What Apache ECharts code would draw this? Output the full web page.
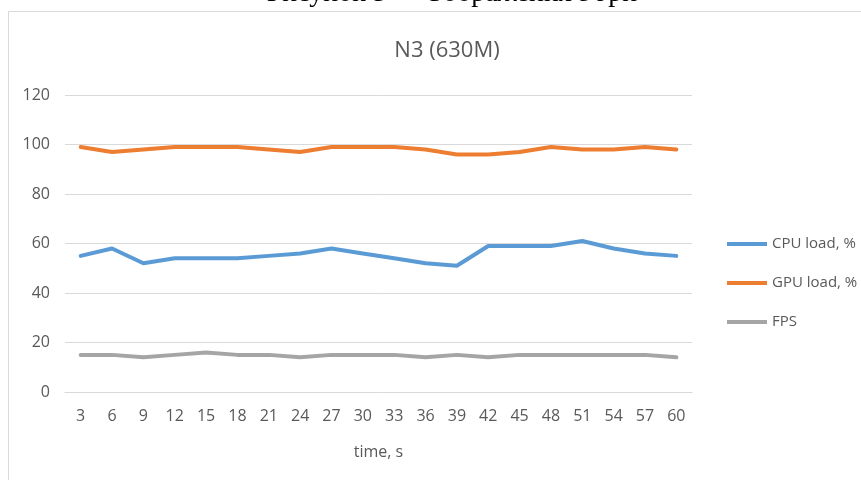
<!DOCTYPE html>
<html>
<head>
<meta charset="utf-8">
<script src="https://cdn.jsdelivr.net/npm/echarts@6/dist/echarts.min.js"></script>
<style>html,body{margin:0;padding:0;background:#fff;}#c{width:861px;height:480px;}</style>
</head>
<body>
<div id="c"></div>
<script>
var categories = ['3','6','9','12','15','18','21','24','27','30','33','36','39','42','45','48','51','54','57','60'];
var cpuLoad = [55,58,52,54,54,54,55,56,58,56,54,52,51,59,59,59,61,58,56,55];
var gpuLoad = [99,97,98,99,99,99,98,97,99,99,99,98,96,96,97,99,98,98,99,98];
var fps = [15,15,14,15,16,15,15,14,15,15,15,14,15,14,15,15,15,15,15,14];
var seriesNames = ['CPU load, %','GPU load, %','FPS'];
var colors = ['#5B9BD5','#ED7D31','#A5A5A5'];

var chart = echarts.init(document.getElementById('c'), null, {renderer:'canvas'});
var font = '"Open Sans", "Noto Sans", sans-serif';
function mk(name, data, color){
  return {name:name, type:'line', data:data, symbol:'none', smooth:false,
    lineStyle:{width:4, color:color, join:'round', cap:'round'}, itemStyle:{color:color}, z:3};
}
chart.setOption({
  animation:false,
  backgroundColor:'#fff',
  color:colors,
  graphic:[
    {type:'text', z:-20, style:{text:'Рисунок 5 — Зображення з гри', x:452, y:8, align:'center', verticalAlign:'bottom', font:'28px "Liberation Serif", serif', fill:'#000'}},
    {type:'rect', z:-10, shape:{x:8.5, y:11.5, width:900, height:500}, style:{fill:'#fff', stroke:'#d9d9d9', lineWidth:1}}
  ],
  title:{text:'N3 (630M)', left:442, textAlign:'center', top:35, textStyle:{fontFamily:font, fontSize:22, fontWeight:'normal', color:'#595959'}},
  legend:{orient:'vertical', left:722, top:229, icon:'rect', itemWidth:40, itemHeight:4, itemGap:19,
    textStyle:{fontFamily:font, fontSize:15, color:'#595959', lineHeight:20}, data:seriesNames},
  grid:{left:65, right:169, top:95, bottom:88, containLabel:false},
  xAxis:{type:'category', data:categories, boundaryGap:true,
    name:'time, s', nameLocation:'middle', nameGap:52, nameTextStyle:{fontFamily:font, fontSize:16, color:'#595959'},
    axisLine:{show:true, lineStyle:{color:'#d9d9d9', width:1}}, axisTick:{show:false},
    axisLabel:{fontFamily:font, fontSize:16, color:'#595959', margin:16, interval:0}},
  yAxis:{type:'value', min:0, max:120, interval:20,
    axisLine:{show:false}, axisTick:{show:false},
    axisLabel:{fontFamily:font, fontSize:16, color:'#595959', margin:15},
    splitLine:{lineStyle:{color:'#d9d9d9', width:1}}},
  series:[mk(seriesNames[0], cpuLoad, colors[0]), mk(seriesNames[1], gpuLoad, colors[1]), mk(seriesNames[2], fps, colors[2])]
});
</script>
</body>
</html>
